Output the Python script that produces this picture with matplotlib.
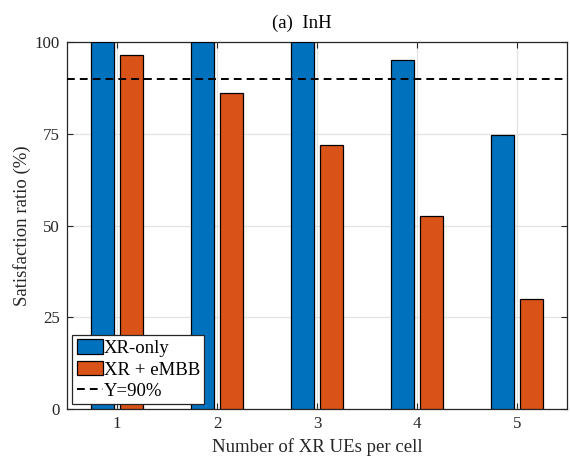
import matplotlib
matplotlib.use("Agg")
import matplotlib.pyplot as plt
import numpy as np

# data
ues = [1, 2, 3, 4, 5]
xr_only = [100, 100, 100, 95.1, 74.8]
xr_embb = [96.6, 86.2, 71.9, 52.7, 30.0]
target = 90

plt.rcParams['font.family'] = ['Liberation Serif', 'DejaVu Serif']

blue = '#0072bd'
orange = '#d95319'
axc = '#262626'

fig = plt.figure(figsize=(5.7, 4.58), dpi=100)
ax = fig.add_axes([0.1175, 0.107, 0.8772, 0.801])

x = np.array(ues, dtype=float)
w = 0.23
off = 0.143
b1 = ax.bar(x - off, xr_only, w, color=blue, edgecolor='black', linewidth=0.9,
            label='XR-only', zorder=3)
b2 = ax.bar(x + off, xr_embb, w, color=orange, edgecolor='black', linewidth=0.9,
            label='XR + eMBB', zorder=3)
ln = ax.axhline(target, color='black', linestyle=(0, (4, 2.6)), linewidth=1.4,
                label='Y=90%', zorder=4)

ax.set_xlim(0.5, 5.5)
ax.set_ylim(0, 100)
ax.set_xticks(ues)
ax.set_yticks([0, 25, 50, 75, 100])
ax.grid(True, color='#e3e3e3', linewidth=0.9, zorder=0)
ax.set_axisbelow(True)
ax.tick_params(direction='in', length=4, width=0.8, colors=axc,
               top=True, right=True, labelsize=12.2, labelcolor='#262626',
               pad=5)
for s in ax.spines.values():
    s.set_color(axc)
    s.set_linewidth(0.9)

ax.set_xlabel('Number of XR UEs per cell', fontsize=13.5, color='#262626',
              labelpad=4.5)
ax.set_ylabel('Satisfaction ratio (%)', fontsize=13.5, color='#262626',
              labelpad=2.5)
# title sits a bit left of the axes centre in the reference
fig.text(301.5 / 570, 1 - 28 / 458, '(a)  InH', fontsize=13.5,
         ha='center', va='baseline')

leg = ax.legend([b1, b2, ln], ['XR-only', 'XR + eMBB', 'Y=90%'],
                loc='lower left', bbox_to_anchor=(0.011, 0.014),
                fontsize=13.5, fancybox=False, framealpha=1,
                edgecolor=axc, handlelength=1.4, handleheight=0.83,
                handletextpad=0.05, labelspacing=0.18, borderpad=0.22,
                borderaxespad=0.0)
leg.get_frame().set_linewidth(0.9)

fig.savefig('out.png', dpi=100)
